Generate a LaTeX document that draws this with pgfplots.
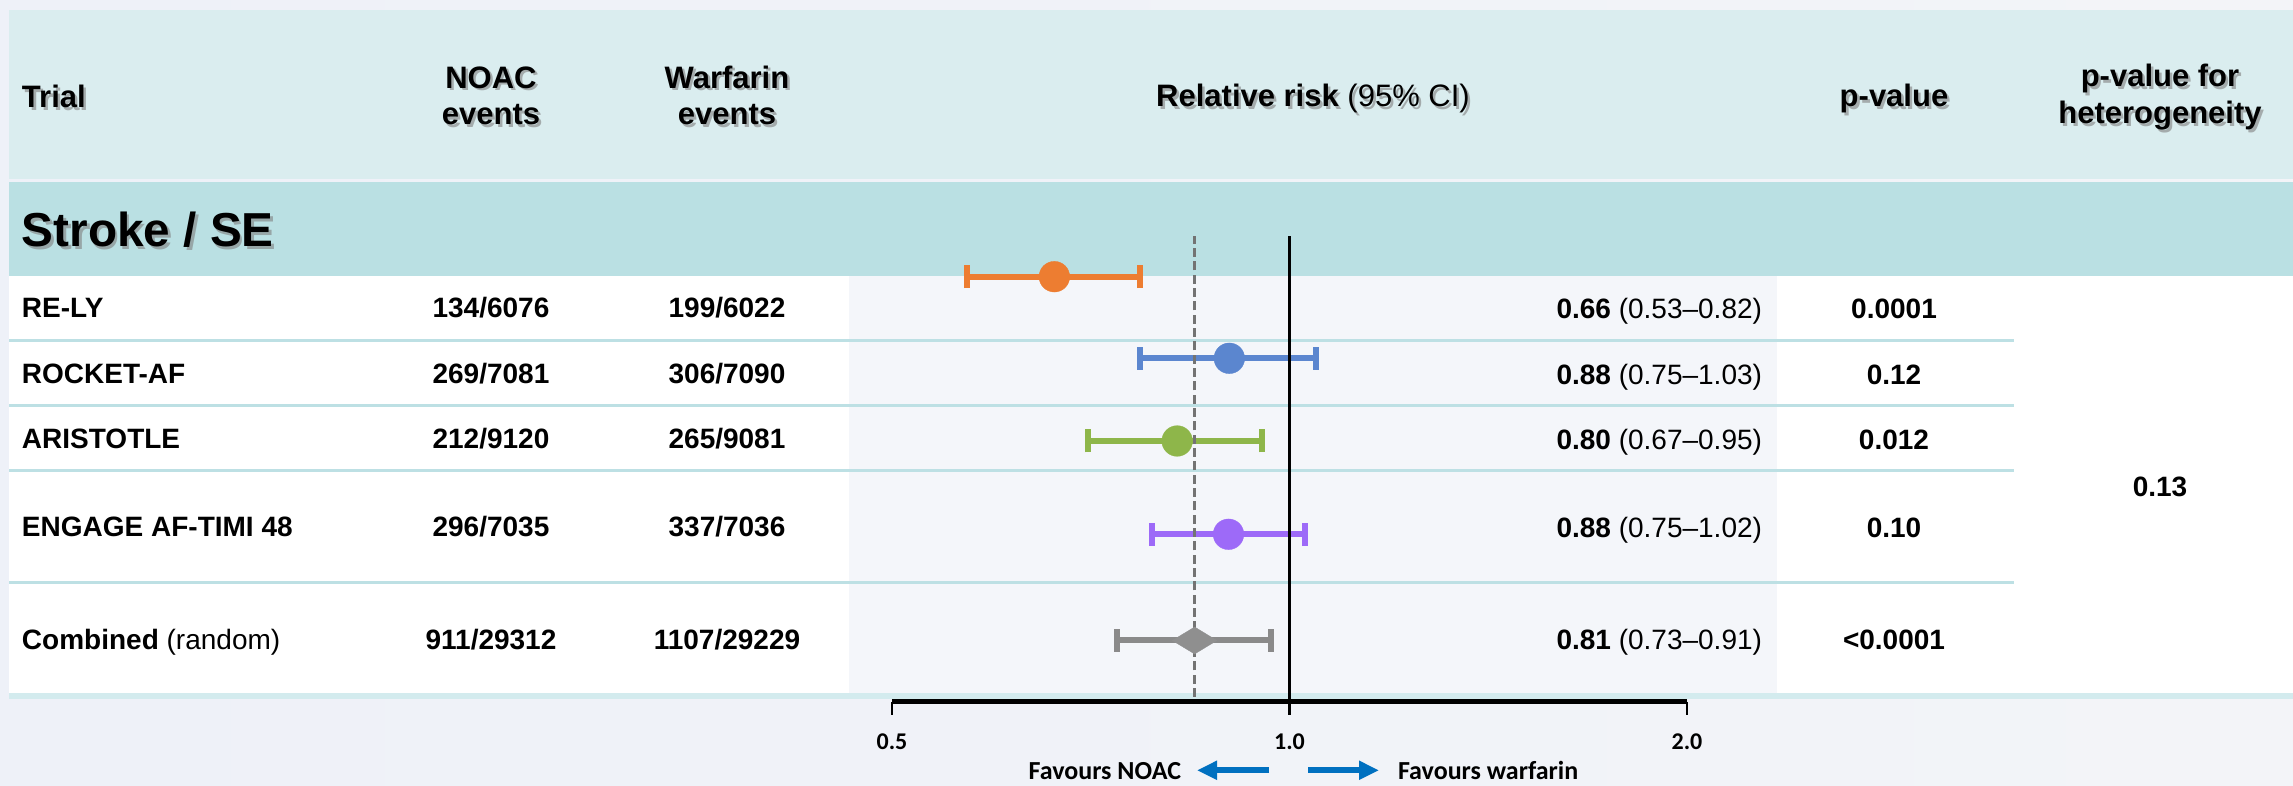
\documentclass[border=0pt]{standalone}
\usepackage{fontspec}
\setmainfont{Liberation Sans}
\newfontfamily\calibri{Carlito}
\usepackage{pgfplots}
\pgfplotsset{compat=1.18}
\usetikzlibrary{arrows.meta}
\definecolor{bgOuter}{HTML}{EEF1F8}
\definecolor{bgOuterR}{HTML}{F3F4F8}
\definecolor{hdr}{HTML}{DAEDEF}
\definecolor{band}{HTML}{BAE0E3}
\definecolor{fgray}{HTML}{F4F6FA}
\definecolor{sep}{HTML}{BDE0E4}
\definecolor{botband}{HTML}{D3EBEE}
\definecolor{cOr}{HTML}{ED7D31}
\definecolor{cBl}{HTML}{5B86CF}
\definecolor{cGr}{HTML}{8EB64A}
\definecolor{cPu}{HTML}{9D6AF8}
\definecolor{cGy}{HTML}{8A8A8A}
\definecolor{cDi}{HTML}{8F8F8F}
\definecolor{arrowblue}{HTML}{0070C0}
\newcommand{\hf}{\fontsize{9.3}{11}\selectfont\bfseries}
\newcommand{\rf}{\fontsize{8.4}{10}\selectfont}
\newcommand{\sh}[4]{%
  \node[tx, anchor=#3, text=black!50, opacity=.6] at (#1+2.5,#2-2.5) {#4};
  \node[tx, anchor=#3] at (#1,#2) {#4};}
\begin{document}
\begin{tikzpicture}[x=0.3pt,y=0.3pt, tx/.style={inner sep=0pt, outer sep=0pt}]
\useasboundingbox (0,0) rectangle (2293,786);
% backgrounds
\shade[left color=bgOuter, right color=bgOuterR] (0,0) rectangle (2293,786);
\fill[hdr] (9,607) rectangle (2293,776);
\fill[band] (9,510) rectangle (2293,604);
\fill[white] (9,93) rectangle (2293,510);
\fill[fgray] (849,93) rectangle (1777,510);
\fill[botband] (9,87) rectangle (2293,93);
\foreach \yy in {445.5,380.3,315,203.3}{\draw[sep, line width=0.9pt] (9,\yy) -- (2014,\yy);}
% header texts
\sh{22}{678}{base west}{\hf Trial}
\sh{491}{697.7}{base}{\hf NOAC}
\sh{491}{661}{base}{\hf events}
\sh{727}{697.7}{base}{\hf Warfarin}
\sh{727}{661}{base}{\hf events}
\sh{1313}{679}{base}{\hf Relative risk \mdseries(95\% CI)}
\sh{1894}{679}{base}{\hf p-value}
\sh{2160}{699}{base}{\hf p-value for}
\sh{2160}{662}{base}{\hf heterogeneity}
\sh{22}{539}{base west}{\fontsize{14.3}{16}\selectfont\bfseries Stroke / SE}
% rows
\begin{scope}[every node/.style={tx}]
\node[anchor=base west] at (22,468) {\rf\bfseries RE-LY};
\node[anchor=base west] at (22,402) {\rf\bfseries ROCKET-AF};
\node[anchor=base west] at (22,337) {\rf\bfseries ARISTOTLE};
\node[anchor=base west] at (22,249) {\rf\bfseries ENGAGE AF-TIMI 48};
\node[anchor=base west] at (22,136) {\rf\textbf{Combined} (random)};
\node[anchor=base] at (491,468) {\rf\bfseries 134/6076};
\node[anchor=base] at (491,402) {\rf\bfseries 269/7081};
\node[anchor=base] at (491,337) {\rf\bfseries 212/9120};
\node[anchor=base] at (491,249) {\rf\bfseries 296/7035};
\node[anchor=base] at (491,136) {\rf\bfseries 911/29312};
\node[anchor=base] at (727,468) {\rf\bfseries 199/6022};
\node[anchor=base] at (727,402) {\rf\bfseries 306/7090};
\node[anchor=base] at (727,337) {\rf\bfseries 265/9081};
\node[anchor=base] at (727,249) {\rf\bfseries 337/7036};
\node[anchor=base] at (727,136) {\rf\bfseries 1107/29229};
\node[anchor=base east] at (1762,467) {\rf\textbf{0.66} (0.53--0.82)};
\node[anchor=base east] at (1762,401.5) {\rf\textbf{0.88} (0.75--1.03)};
\node[anchor=base east] at (1762,336.5) {\rf\textbf{0.80} (0.67--0.95)};
\node[anchor=base east] at (1762,248.5) {\rf\textbf{0.88} (0.75--1.02)};
\node[anchor=base east] at (1762,136) {\rf\textbf{0.81} (0.73--0.91)};
\node[anchor=base] at (1894,467) {\rf\bfseries 0.0001};
\node[anchor=base] at (1894,401.5) {\rf\bfseries 0.12};
\node[anchor=base] at (1894,336.5) {\rf\bfseries 0.012};
\node[anchor=base] at (1894,248.5) {\rf\bfseries 0.10};
\node[anchor=base] at (1894,136) {\rf\bfseries <0.0001};
\node[anchor=base] at (2160,289) {\rf\bfseries 0.13};
% x labels
\node[anchor=base] at (892,36.6) {\calibri\fontsize{7.2}{9}\selectfont\bfseries 0.5};
\node[anchor=base] at (1289.5,36.6) {\calibri\fontsize{7.2}{9}\selectfont\bfseries 1.0};
\node[anchor=base] at (1687,36.6) {\calibri\fontsize{7.2}{9}\selectfont\bfseries 2.0};
\node[anchor=base east] at (1181,6.7) {\calibri\fontsize{7.8}{9}\selectfont\bfseries Favours NOAC};
\node[anchor=base west] at (1398,6.7) {\calibri\fontsize{7.8}{9}\selectfont\bfseries Favours warfarin};
\end{scope}
\draw[arrowblue, line width=1.8pt, -{Triangle[length=6pt,width=5.4pt]}] (1269,15.7) -- (1197,15.7);
\draw[arrowblue, line width=1.8pt, -{Triangle[length=6pt,width=5.4pt]}] (1308,15.7) -- (1379,15.7);
% forest plot
\begin{axis}[
  at={(267.6pt,25.29pt)}, anchor=south west,
  scale only axis, width=238.5pt, height=210.51pt,
  xmode=log, xmin=0.5, xmax=2, ymin=84.3, ymax=786,
  axis x line*=bottom, axis y line=none,
  xtick={0.5,1,2}, xticklabels={}, xminorticks=false,
  tick align=outside, major tick length=3.9pt,
  every tick/.style={black, line width=0.75pt},
  x axis line style={line width=1.5pt},
  clip=false,
  ci/.style={line width=1.8pt, mark=none},
  cap/.style={line width=1.8pt, mark=none, line cap=butt},
]
% RE-LY
\addplot[cOr, ci] coordinates {(0.5697,509.3) (0.7711,509.3)};
\addplot[cOr, cap] coordinates {(0.5697,497.8) (0.5697,520.8)};
\addplot[cOr, cap] coordinates {(0.7711,497.8) (0.7711,520.8)};
% ROCKET-AF
\addplot[cBl, ci] coordinates {(0.7710,427.7) (1.0470,427.7)};
\addplot[cBl, cap] coordinates {(0.7710,416.2) (0.7710,439.2)};
\addplot[cBl, cap] coordinates {(1.0470,416.2) (1.0470,439.2)};
% ARISTOTLE
\addplot[cGr, ci] coordinates {(0.7034,345.0) (0.9537,345.0)};
\addplot[cGr, cap] coordinates {(0.7034,333.5) (0.7034,356.5)};
\addplot[cGr, cap] coordinates {(0.9537,333.5) (0.9537,356.5)};
% ENGAGE
\addplot[cPu, ci] coordinates {(0.7867,251.7) (1.0278,251.7)};
\addplot[cPu, cap] coordinates {(0.7867,240.2) (0.7867,263.2)};
\addplot[cPu, cap] coordinates {(1.0278,240.2) (1.0278,263.2)};
% Combined
\addplot[cGy, ci] coordinates {(0.7404,145.5) (0.9677,145.5)};
\addplot[cGy, cap] coordinates {(0.7404,134.0) (0.7404,157.0)};
\addplot[cGy, cap] coordinates {(0.9677,134.0) (0.9677,157.0)};
% point estimates
\addplot[cOr, only marks, mark=*, mark size=4.6pt, mark options={fill=cOr, line width=0.1pt}] coordinates {(0.6637,509.3)};
\addplot[cBl, only marks, mark=*, mark size=4.6pt, mark options={fill=cBl, line width=0.1pt}] coordinates {(0.9004,427.7)};
\addplot[cGr, only marks, mark=*, mark size=4.6pt, mark options={fill=cGr, line width=0.1pt}] coordinates {(0.8221,345.0)};
\addplot[cPu, only marks, mark=*, mark size=4.6pt, mark options={fill=cPu, line width=0.1pt}] coordinates {(0.8991,251.7)};
\addplot[cDi, only marks, mark=diamond*, mark size=4.05pt, mark options={fill=cDi, line width=0.1pt, xscale=2.2}] coordinates {(0.8475,145.5)};
% reference lines
\addplot[black!55, line width=1pt, dash pattern=on 2.7pt off 1.3pt] coordinates {(0.8475,89) (0.8475,550)};
\addplot[black, line width=0.9pt] coordinates {(1,84.3) (1,550)};
\end{axis}
\end{tikzpicture}
\end{document}
